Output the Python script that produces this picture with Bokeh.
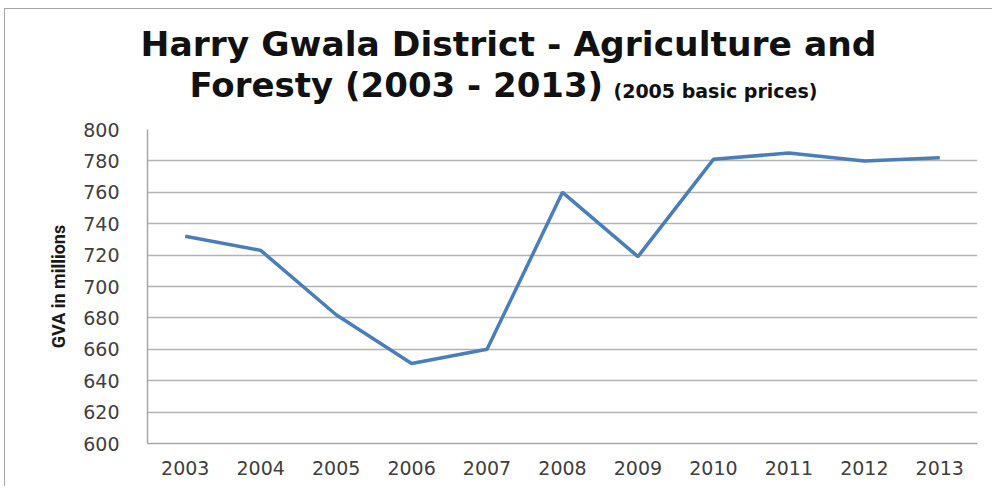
from bokeh.plotting import figure
from bokeh.models import FactorRange, Range1d, FixedTicker
from bokeh.core.properties import value
from bokeh.embed import file_html
from bokeh.resources import INLINE

years = ["2003", "2004", "2005", "2006", "2007", "2008", "2009", "2010", "2011", "2012", "2013"]
gva = [732, 723, 682, 651, 660, 760, 719, 781, 785, 780, 782]
y_ticks = [600, 620, 640, 660, 680, 700, 720, 740, 760, 780, 800]

title_line1 = "Harry Gwala District - Agriculture and"
title_line2 = "Foresty (2003 - 2013)"
title_suffix = "(2005 basic prices)"
y_label = "GVA in millions"

W = 988
BORDER = {"border-left": "1.5px solid #a6a6a6", "border-top": "1.5px solid #a6a6a6"}

# --- title area: a bare figure whose frame is the whole title strip (page pixels) ---
t = figure(width=W, height=112, x_range=Range1d(5, 5 + W), y_range=Range1d(121, 9),
           output_backend="svg", toolbar_location=None,
           min_border_left=0, min_border_right=0, min_border_top=0, min_border_bottom=0)
t.margin = (8, 0, 0, 4)
t.styles = BORDER
t.axis.visible = False
t.grid.visible = False
t.outline_line_color = None
t.border_fill_color = "white"
t.background_fill_color = "white"
TF = value("DejaVu Sans")
t.text(x=[508], y=[43], text=[title_line1], text_align="center", text_baseline="alphabetic",
       text_font=TF, text_font_style="bold", text_font_size="34.5px", text_color="#111111")
t.text(x=[189], y=[84.5], text=[title_line2], text_align="left", text_baseline="alphabetic",
       text_font=TF, text_font_style="bold", text_font_size="34px", text_color="#111111")
t.text(x=[613], y=[90], text=[title_suffix], text_align="left", text_baseline="alphabetic",
       text_font=TF, text_font_style="bold", text_font_size="19px", text_color="#111111")

# --- chart ---
p = figure(width=W, height=366, x_range=FactorRange(*years, range_padding=0),
           y_range=Range1d(600, 800), output_backend="svg", toolbar_location=None,
           min_border_left=142, min_border_right=16, min_border_top=9, min_border_bottom=43)
p.margin = (0, 0, 0, 4)
p.styles = {"border-left": "1.5px solid #a6a6a6"}
p.outline_line_color = None
p.background_fill_color = "white"
p.border_fill_color = "white"

p.line(years, gva, line_color="#4a7ebb", line_width=3.5)

p.xgrid.grid_line_color = None
p.ygrid.grid_line_color = "#b3b3b3"
p.ygrid.grid_line_width = 1.5

p.yaxis.ticker = FixedTicker(ticks=y_ticks)
for ax in (p.xaxis[0], p.yaxis[0]):
    ax.axis_line_color = "#a6a6a6"
    ax.axis_line_width = 1.5
    ax.major_tick_line_color = None
    ax.minor_tick_line_color = None
    ax.major_label_text_font = "DejaVu Sans"
    ax.major_label_text_font_size = "19px"
    ax.major_label_text_color = "#404040"

p.yaxis.major_label_standoff = 22
p.xaxis.major_label_standoff = 11
p.yaxis.axis_label = y_label
p.yaxis.axis_label_text_font = "Roboto"
p.yaxis.axis_label_text_font_style = "bold"
p.yaxis.axis_label_text_font_size = "18px"
p.yaxis.axis_label_text_color = "#1a1a1a"
p.yaxis.axis_label_standoff = 11

open("out.html", "w").write(file_html([t, p], INLINE))
